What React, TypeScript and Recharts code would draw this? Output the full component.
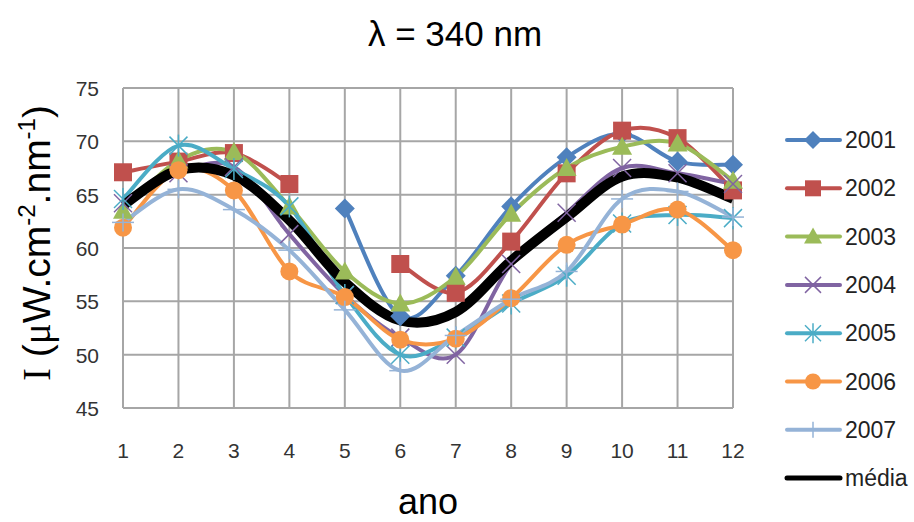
import React from 'react';
import { LineChart, Line, XAxis, YAxis, CartesianGrid, Label } from 'recharts';

// monthly mean irradiance at 340 nm, one array per year (null = no measurement)
const months = [1, 2, 3, 4, 5, 6, 7, 8, 9, 10, 11, 12];
const y2001 = [null, null, null, null, 63.7, 53.6, 57.4, 63.9, 68.5, 70.7, 68.1, 67.8];
const y2002 = [67.1, 68.1, 68.9, 66.0, null, 58.5, 55.8, 60.6, 67.0, 71.0, 70.3, 65.4];
const y2003 = [63.5, 68.2, 69.0, 63.9, 57.8, 54.8, 57.3, 63.2, 67.5, 69.5, 69.8, 66.3];
const y2004 = [64.2, 67.0, 67.6, 61.3, 55.6, 51.6, 50.0, 58.5, 63.3, 67.5, 67.0, 66.0];
const y2005 = [64.6, 69.6, 67.4, 63.9, 55.6, 50.0, 51.6, 54.8, 57.4, 62.3, 63.1, 62.8];
const y2006 = [61.9, 67.3, 65.4, 57.8, 55.4, 51.4, 51.5, 55.3, 60.3, 62.2, 63.6, 59.8];
const y2007 = [62.4, 65.5, 63.6, 59.8, 54.2, 48.5, 51.8, 55.2, 57.8, 64.6, 65.3, 62.9];
const media = [64.0, 67.3, 66.8, 62.6, 56.8, 53.2, 54.0, 58.8, 62.9, 66.7, 66.6, 64.6];
const yTicks = [45, 50, 55, 60, 65, 70, 75];

const series = [
  { key: 'y2001', name: '2001', values: y2001, color: '#4F81BD', marker: 'diamond' },
  { key: 'y2002', name: '2002', values: y2002, color: '#C0504D', marker: 'square' },
  { key: 'y2003', name: '2003', values: y2003, color: '#9BBB59', marker: 'triangle' },
  { key: 'y2004', name: '2004', values: y2004, color: '#8064A2', marker: 'x' },
  { key: 'y2005', name: '2005', values: y2005, color: '#4BACC6', marker: 'star' },
  { key: 'y2006', name: '2006', values: y2006, color: '#F79646', marker: 'circle' },
  { key: 'y2007', name: '2007', values: y2007, color: '#95B3D7', marker: 'plus' },
  { key: 'media', name: 'média', values: media, color: '#000000', marker: 'none' },
];

const data = months.map((m, i) => {
  const row: any = { month: m };
  series.forEach(s => { row[s.key] = s.values[i]; });
  return row;
});

// Excel style smoothed line: cubic bezier with catmull-rom control points
const smoothCurve: any = (context: any) => {
  let pts: number[][] = [];
  return {
    areaStart() {},
    areaEnd() {},
    lineStart() { pts = []; },
    point(x: number, y: number) { pts.push([+x, +y]); },
    lineEnd() {
      const n = pts.length;
      if (!n) return;
      context.moveTo(pts[0][0], pts[0][1]);
      for (let i = 0; i < n - 1; i++) {
        const p0 = pts[Math.max(i - 1, 0)];
        const p1 = pts[i];
        const p2 = pts[i + 1];
        const p3 = pts[Math.min(i + 2, n - 1)];
        context.bezierCurveTo(
          p1[0] + (p2[0] - p0[0]) / 6, p1[1] + (p2[1] - p0[1]) / 6,
          p2[0] - (p3[0] - p1[0]) / 6, p2[1] - (p3[1] - p1[1]) / 6,
          p2[0], p2[1]
        );
      }
    },
  };
};

const Marker = ({ shape, cx, cy, color, r = 9 }: any) => {
  if (shape === 'diamond') return <polygon points={`${cx},${cy - r - 1} ${cx + r + 1},${cy} ${cx},${cy + r + 1} ${cx - r - 1},${cy}`} fill={color} />;
  if (shape === 'square') return <rect x={cx - r} y={cy - r} width={r * 2} height={r * 2} fill={color} />;
  if (shape === 'triangle') return <polygon points={`${cx},${cy - r - 1} ${cx + r + 1},${cy + r - 1} ${cx - r - 1},${cy + r - 1}`} fill={color} />;
  if (shape === 'circle') return <circle cx={cx} cy={cy} r={r} fill={color} />;
  if (shape === 'x' || shape === 'star') return (
    <g stroke={color} strokeWidth={1.5}>
      <line x1={cx - r} y1={cy - r} x2={cx + r} y2={cy + r} />
      <line x1={cx - r} y1={cy + r} x2={cx + r} y2={cy - r} />
      {shape === 'star' && <line x1={cx} y1={cy - r - 2} x2={cx} y2={cy + r + 2} />}
    </g>
  );
  if (shape === 'plus') return (
    <g stroke={color} strokeWidth={1.5}>
      <line x1={cx - r - 2} y1={cy} x2={cx + r + 2} y2={cy} />
      <line x1={cx} y1={cy - r} x2={cx} y2={cy + r} />
    </g>
  );
  return null;
};

const YTitle = () => (
  <text transform="rotate(-90)" x={-243} y={50} textAnchor="middle" fontSize={39} fill="#000" fontFamily="Liberation Sans, Arial">
    <tspan fontFamily="Liberation Serif">I</tspan>
    <tspan> (</tspan>
    <tspan fontFamily="Liberation Serif">μ</tspan>
    <tspan>W.cm</tspan>
    <tspan fontSize={24} dy={-15}>-2</tspan>
    <tspan dy={15}>.nm</tspan>
    <tspan fontSize={24} dy={-15}>-1</tspan>
    <tspan dy={15}>)</tspan>
  </text>
);

const XTick = ({ x, y, payload }: any) => (
  <text x={x} y={y + 17} textAnchor="middle" fontSize={21} fill="#333" fontFamily="Liberation Sans, Arial">{payload.value}</text>
);

const YTick = ({ x, y, payload }: any) => (
  <text x={x} y={y + 8} textAnchor="end" fontSize={21} fill="#333" fontFamily="Liberation Sans, Arial">{payload.value}</text>
);

const App = () => {
  return (
    <div style={{ position: 'absolute', left: 0, top: 0, width: 914, height: 522, background: '#fff', overflow: 'hidden' }}>
      <LineChart width={914} height={522} data={data} margin={{ top: 88, right: 181, bottom: 64, left: 63 }}>
        <CartesianGrid stroke="#a6a6a6" strokeWidth={2} ticks={months} />
        <XAxis dataKey="month" type="number" domain={[1, 12]} ticks={months} axisLine={false} tickLine={false}
          tickSize={0} tickMargin={33} height={50} tick={<XTick />} interval={0}>
          <Label value="ano" position="bottom" offset={0} content={() => (
            <text x={428} y={514} textAnchor="middle" fontSize={36} fontFamily="Liberation Sans, Arial" fill="#000">ano</text>
          )} />
        </XAxis>
        <YAxis type="number" domain={[45, 75]} ticks={yTicks} axisLine={false} tickLine={false} tickSize={0}
          tickMargin={24} width={60} tick={<YTick />} interval={0}>
          <Label content={() => <YTitle />} />
        </YAxis>
        {series.map(s => (
          <Line key={s.key} dataKey={s.key} name={s.name} stroke={s.color} type={smoothCurve}
            strokeWidth={s.key === 'media' ? 10 : 4} isAnimationActive={false} connectNulls={false}
            activeDot={false}
            dot={(p: any) => (p.cy == null || s.marker === 'none')
              ? <g key={`${s.key}-${p.index}`} />
              : <Marker key={`${s.key}-${p.index}`} shape={s.marker} cx={p.cx} cy={p.cy} color={s.color} />} />
        ))}
      </LineChart>
      <svg width={914} height={522} style={{ position: 'absolute', left: 0, top: 0, pointerEvents: 'none' }}>
        <text x={455} y={46} textAnchor="middle" fontSize={35} fontFamily="Liberation Sans, Arial" fill="#000">λ = 340 nm</text>
        {series.map((s, i) => {
          const y = 140 + i * 48.3;
          return (
            <g key={s.key}>
              <line x1={787} x2={840} y1={y} y2={y} stroke={s.color} strokeWidth={s.key === 'media' ? 5 : 4} strokeLinecap="round" />
              <Marker shape={s.marker} cx={813} cy={y} color={s.color} r={8} />
              <text x={845} y={y + 8} fontSize={23} fontFamily="Liberation Sans, Arial" fill="#222">{s.name}</text>
            </g>
          );
        })}
      </svg>
    </div>
  );
};

export default App;
